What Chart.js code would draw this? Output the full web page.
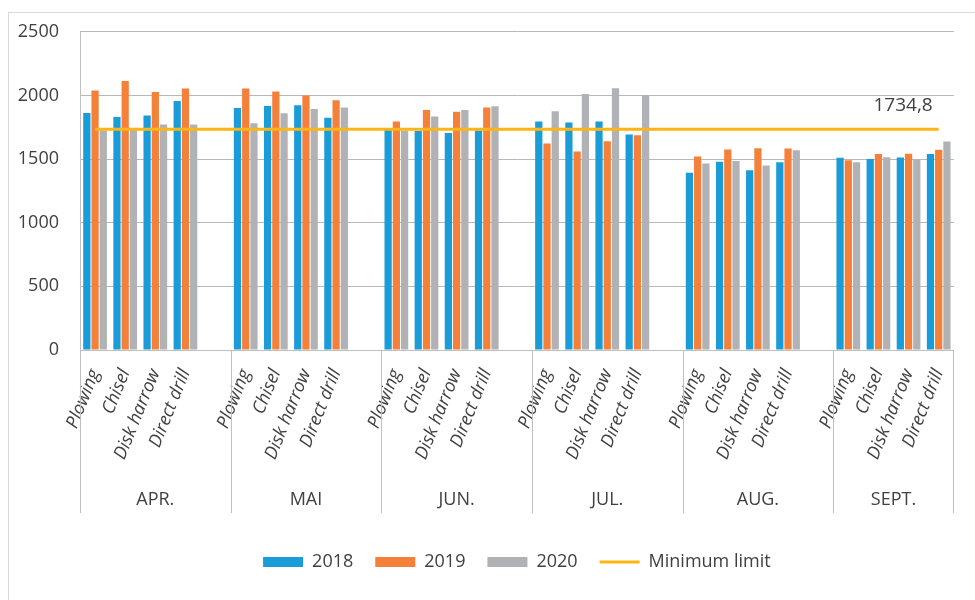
<!DOCTYPE html>
<html>
<head>
<meta charset="utf-8">
<script src="https://cdn.jsdelivr.net/npm/chart.js@4.4.1/dist/chart.umd.min.js"></script>
<style>
html,body{margin:0;padding:0;background:#fff;}
#frame{position:absolute;left:8px;top:12px;width:1000px;height:600px;border:1px solid #d9d9d9;}
#wrap{position:absolute;left:0;top:0;width:975px;height:600px;}
</style>
</head>
<body>
<div id="frame"></div>
<div id="wrap"><canvas id="myChart"></canvas></div>
<script>
var months = ['APR.', 'MAI', 'JUN.', 'JUL.', 'AUG.', 'SEPT.']
var methods = ['Plowing', 'Chisel', 'Disk harrow', 'Direct drill']
// 4 values per month, same order as methods
var y2018 = [1863, 1831, 1842, 1957,  1902, 1918, 1923, 1824,  1745, 1720, 1704, 1725,
             1795, 1788, 1795, 1693,  1392, 1479, 1413, 1476,  1510, 1500, 1513, 1539]
var y2019 = [2038, 2114, 2027, 2054,  2054, 2031, 1999, 1962,  1795, 1886, 1871, 1905,
             1623, 1560, 1641, 1688,  1521, 1576, 1586, 1584,  1490, 1539, 1541, 1573]
var y2020 = [1725, 1745, 1772, 1772,  1782, 1860, 1894, 1905,  1725, 1834, 1886, 1915,
             1876, 2012, 2056, 2004,  1466, 1484, 1450, 1570,  1476, 1515, 1497, 1639]
var minLimit = 1734.8
var yMax = 2500
var yStep = 500

var FONT = "'Open Sans', sans-serif"
var TXT = '#404040'

//baut die kategorien, mit leerer spalte zwischen den monaten
var labels = [], d18 = [], d19 = [], d20 = []
for (var m = 0; m < months.length; m++) {
    for (var i = 0; i < methods.length; i++) {
        labels.push(methods[i])
        d18.push(y2018[m * 4 + i])
        d19.push(y2019[m * 4 + i])
        d20.push(y2020[m * 4 + i])
    }
    if (m < months.length - 1) {
        labels.push('')
        d18.push(null); d19.push(null); d20.push(null)
    }
}
var dLimit = labels.map(function () { return minLimit })

var groupPlugin = {
    id: 'groups',
    afterDraw: function (chart) {
        var x = chart.scales.x
        var area = chart.chartArea
        var ctx = chart.ctx
        var half = (x.getPixelForValue(1) - x.getPixelForValue(0)) / 2
        ctx.save()
        ctx.strokeStyle = '#bfbfbf'
        ctx.lineWidth = 1
        ctx.fillStyle = TXT
        ctx.font = '18px ' + FONT
        ctx.textAlign = 'center'
        ctx.textBaseline = 'middle'
        var start = 0
        for (var m = 0; m < months.length; m++) {
            var n = methods.length + (m < months.length - 1 ? 1 : 0)
            var left = x.getPixelForValue(start) - half
            var right = x.getPixelForValue(start + n - 1) + half
            ctx.beginPath()
            ctx.moveTo(Math.round(left) + 0.5, area.bottom)
            ctx.lineTo(Math.round(left) + 0.5, 513)
            if (m == months.length - 1) {
                ctx.moveTo(Math.round(right) - 0.5, area.bottom)
                ctx.lineTo(Math.round(right) - 0.5, 513)
            }
            ctx.stroke()
            ctx.fillText(months[m], (left + right) / 2, 500)
            start += n
        }
        //wert der linie
        var meta = chart.getDatasetMeta(3)
        var last = meta.data[meta.data.length - 1]
        ctx.textAlign = 'right'
        ctx.font = '19px ' + FONT
        ctx.fillText(String(minLimit).replace('.', ','), last.x - 6, last.y - 24)
        ctx.restore()
    }
}

const ctx = document.getElementById('myChart')
var char = new Chart(ctx, {
    type: 'bar',
    data: {
        labels: labels,
        datasets: [
            { label: '2018', data: d18, backgroundColor: '#1a9cd8', order: 1 },
            { label: '2019', data: d19, backgroundColor: '#f4803a', order: 1 },
            { label: '2020', data: d20, backgroundColor: '#b1b2b6', order: 1 },
            { type: 'line', label: 'Minimum limit', data: dLimit, borderColor: '#fdb515',
              backgroundColor: '#fdb515', borderWidth: 3, pointRadius: 0, order: 0 }
        ]
    },
    options: {
        responsive: true,
        maintainAspectRatio: false,
        animation: false,
        datasets: { bar: { categoryPercentage: 0.82, barPercentage: 0.88 } },
        layout: { padding: { top: 30, left: 0, right: 16, bottom: 19 } },
        scales: {
            x: {
                grid: { display: false, drawTicks: false },
                border: { display: true, color: '#bfbfbf' },
                ticks: { autoSkip: false, minRotation: 68, maxRotation: 68, padding: 16,
                         color: TXT, font: { family: FONT, size: 18, style: 'italic' } },
                afterFit: function (s) { s.height = 181 }
            },
            y: {
                min: 0, max: yMax,
                grid: { color: '#b8b8b8', drawTicks: false },
                border: { display: true, color: '#bfbfbf' },
                ticks: { stepSize: yStep, padding: 21, color: TXT, font: { family: FONT, size: 18 },
                         callback: function (v) { return String(v) } },
                afterFit: function (s) { s.width = 80 }
            }
        },
        plugins: {
            tooltip: { enabled: false },
            legend: {
                position: 'bottom',
                fullSize: false,
                labels: {
                    color: TXT,
                    font: { family: FONT, size: 18 },
                    boxWidth: 40, boxHeight: 10,
                    usePointStyle: true, pointStyleWidth: 40,
                    padding: 22,
                    sort: function (a, b) { return a.datasetIndex - b.datasetIndex },
                    generateLabels: function (chart) {
                        var items = Chart.defaults.plugins.legend.labels.generateLabels(chart)
                        items.forEach(function (it) {
                            if (it.datasetIndex == 3) {
                                it.pointStyle = 'line'
                                it.lineWidth = 3
                                it.strokeStyle = '#fdb515'
                            } else {
                                it.pointStyle = 'rect'
                                it.lineWidth = 0
                            }
                        })
                        return items
                    }
                }
            }
        }
    },
    plugins: [groupPlugin]
})
</script>
</body>
</html>
